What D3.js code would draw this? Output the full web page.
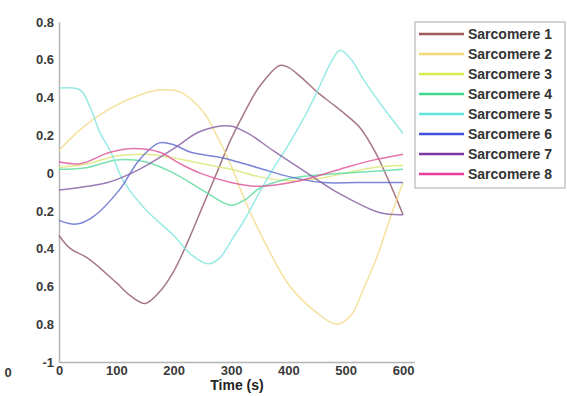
<!DOCTYPE html>
<html><head><meta charset="utf-8">
<script src="https://cdn.jsdelivr.net/npm/d3@7"></script>
<style>
html,body{margin:0;padding:0;background:#fff;}
svg{display:block;}
text{font-family:"Liberation Sans",Arial,sans-serif;font-weight:bold;}
</style></head>
<body><svg id="chart" width="567" height="396"></svg>
<script>
const seriesNames = ["Sarcomere 1","Sarcomere 2","Sarcomere 3","Sarcomere 4","Sarcomere 5","Sarcomere 6","Sarcomere 7","Sarcomere 8"];
const seriesColors = ["#96606e","#f2dc8c","#dce878","#62dca0","#86e6e0","#6470d0","#8a64a8","#e05a9c"];
const legendColors = ["#a05a5a","#f4d878","#d8ec50","#40d890","#60e4dc","#4050d8","#7a3aa0","#e83c98"];
const xTickValues = [0,100,200,300,400,500,600];
const xTickLabels = ["0","100","200","300","400","500","600"];
const yTickValues = [0.8,0.6,0.4,0.2,0,-0.2,-0.4,-0.6,-0.8,-1];
const yTickLabels = ["0.8","0.6","0.4","0.2","0","0.2","0.4","0.6","0.8","-1"];

const s1 = [[0,-0.33],[20,-0.40],[50,-0.45],[100,-0.58],[125,-0.65],[150,-0.69],[175,-0.63],[200,-0.52],[225,-0.36],[250,-0.18],[275,0.0],[300,0.18],[325,0.33],[350,0.46],[385,0.57],[400,0.56],[425,0.50],[450,0.43],[475,0.37],[500,0.31],[525,0.24],[550,0.12],[575,-0.04],[600,-0.22]];
const s2 = [[0,0.12],[37,0.23],[72,0.31],[129,0.40],[176,0.44],[211,0.43],[250,0.33],[275,0.20],[300,0.04],[325,-0.15],[363,-0.39],[403,-0.60],[450,-0.74],[485,-0.80],[510,-0.75],[530,-0.62],[555,-0.44],[575,-0.26],[600,-0.05]];
const s3 = [[0,0.03],[50,0.05],[100,0.09],[150,0.10],[200,0.08],[250,0.05],[300,0.02],[350,-0.02],[400,-0.04],[450,-0.03],[500,0.0],[550,0.03],[600,0.04]];
const s4 = [[0,0.02],[50,0.03],[100,0.07],[150,0.06],[200,0.0],[250,-0.09],[300,-0.17],[325,-0.14],[350,-0.08],[400,-0.03],[450,-0.01],[500,0.0],[550,0.01],[600,0.02]];
const s5 = [[0,0.45],[37,0.44],[54,0.35],[72,0.21],[89,0.12],[112,-0.04],[150,-0.19],[200,-0.33],[230,-0.43],[260,-0.48],[280,-0.45],[300,-0.36],[325,-0.24],[350,-0.10],[375,0.03],[400,0.15],[425,0.28],[450,0.43],[475,0.59],[490,0.65],[510,0.60],[530,0.50],[560,0.37],[600,0.21]];
const s6 = [[0,-0.25],[30,-0.27],[60,-0.23],[105,-0.09],[140,0.07],[175,0.16],[200,0.15],[230,0.11],[286,0.08],[345,0.03],[403,-0.02],[461,-0.05],[520,-0.05],[600,-0.05]];
const s7 = [[0,-0.09],[50,-0.07],[85,-0.05],[140,0.02],[200,0.13],[246,0.22],[298,0.25],[330,0.21],[373,0.12],[433,0.0],[490,-0.11],[560,-0.21],[600,-0.22]];
const s8 = [[0,0.06],[37,0.05],[89,0.11],[129,0.13],[176,0.11],[211,0.05],[246,0.0],[300,-0.05],[345,-0.07],[420,-0.04],[500,0.03],[550,0.07],[600,0.10]];
const seriesData = [s1,s2,s3,s4,s5,s6,s7,s8];

const svg = d3.select("#chart");
const x = d3.scaleLinear().domain([0,620]).range([59,414.5]);
const y = d3.scaleLinear().domain([-1,0.8]).range([362,22]);

// axes
const xAxis = d3.axisBottom(x).tickValues(xTickValues).tickFormat((d,i)=>xTickLabels[i]).tickSize(0).tickPadding(4);
const gx = svg.append("g").attr("transform","translate(0,362)").call(xAxis);
gx.select(".domain").attr("stroke","#b4b4b4").attr("stroke-width",1.5);
gx.selectAll("text").attr("font-size",13).attr("fill","#3a3a3a").attr("font-family","Liberation Sans, Arial, sans-serif").attr("font-weight","bold");

const yAxis = d3.axisLeft(y).tickValues(yTickValues).tickFormat((d,i)=>yTickLabels[i]).tickSize(0).tickPadding(5);
const gy = svg.append("g").attr("transform","translate(59,0)").call(yAxis);
gy.select(".domain").attr("stroke","#b4b4b4").attr("stroke-width",1.5);
gy.selectAll("text").attr("font-size",13).attr("fill","#3a3a3a").attr("font-family","Liberation Sans, Arial, sans-serif").attr("font-weight","bold");

// lines
const line = d3.line().x(d=>x(d[0])).y(d=>y(d[1])).curve(d3.curveCatmullRom.alpha(0.5));
seriesData.forEach((s,i)=>{
  svg.append("path").datum(s).attr("d",line).attr("fill","none")
    .attr("stroke",seriesColors[i]).attr("stroke-width",1.5).attr("stroke-opacity",0.85);
});

// axis title
svg.append("text").attr("x",237).attr("y",390).attr("text-anchor","middle")
  .attr("font-size",14).attr("fill","#222").text("Time (s)");

// stray cropped label at far left
svg.append("text").attr("x",8).attr("y",377).attr("text-anchor","middle")
  .attr("font-size",13).attr("fill","#3a3a3a").text("0");

// legend
const lg = svg.append("g");
lg.append("rect").attr("x",415).attr("y",22).attr("width",150).attr("height",166)
  .attr("fill","#fff").attr("stroke","#a8a8a8").attr("stroke-width",1);
seriesNames.forEach((n,i)=>{
  const yy = 34 + i*20;
  lg.append("line").attr("x1",419).attr("x2",464).attr("y1",yy).attr("y2",yy)
    .attr("stroke",legendColors[i]).attr("stroke-width",2.5);
  lg.append("text").attr("x",468).attr("y",yy+5).attr("font-size",14).attr("fill","#333").text(n);
});
</script></body></html>
